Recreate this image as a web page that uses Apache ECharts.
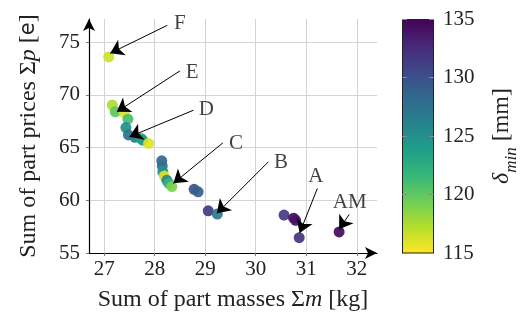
<!DOCTYPE html>
<html><head><meta charset="utf-8">
<script src="https://cdn.jsdelivr.net/npm/echarts@6/dist/echarts.min.js"></script>
<style>html,body{margin:0;padding:0;background:#fff}#c{width:521px;height:322px}</style>
</head><body><div id="c"></div>
<script>
// Scatter data: sum of part masses [kg], sum of part prices, delta_min [mm]
const massKg   = [27.09, 27.16, 27.22, 27.40, 27.47, 27.43, 27.48, 27.61, 27.73, 27.76, 27.88,
                  28.14, 28.15, 28.16, 28.19, 28.24, 28.28, 28.34, 28.78, 28.86, 29.06, 29.24,
                  30.56, 30.75, 30.79, 30.86, 31.65];
const priceSum = [73.6, 69.03, 68.4, 68.3, 67.7, 66.9, 66.2, 65.97, 65.87, 65.7, 65.4,
                  63.75, 63.25, 62.7, 62.3, 61.9, 61.6, 61.3, 61.04, 60.8, 59.0, 58.7,
                  58.6, 58.3, 58.1, 56.45, 57.0];
const deltaMin = [116.5, 117.5, 120, 116, 121, 125, 127.5, 127, 123.5, 124, 116,
                  128.5, 127.5, 125, 116, 126, 122, 119, 130, 129, 131.5, 127,
                  131.5, 134.5, 134, 132, 134.5];

// Annotations (data units)
const annLabels    = ['F', 'E', 'D', 'C', 'B', 'A', 'AM'];
const annTipMass   = [27.12, 27.25, 27.50, 28.37, 29.23, 30.87, 31.65];
const annTipPrice  = [73.95, 68.39, 66.02, 61.61, 58.76, 56.90, 57.25];
const annTailMass  = [28.25, 28.50, 28.77, 29.35, 30.25, 31.22, 31.85];
const annTailPrice = [76.60, 72.28, 68.55, 65.45, 63.65, 61.13, 58.67];
const annTextMass  = [28.50, 28.74, 29.02, 29.61, 30.50, 31.19, 31.86];
const annTextPrice = [76.80, 72.16, 68.65, 65.43, 63.63, 62.30, 59.83];

const xRange = [26.7, 32.4];
const yRange = [55, 77.2];
const cRange = [115, 135];

// viridis, dark (high delta) -> yellow (low delta)
const viridis = ['#440154', '#482878', '#3e4989', '#31688e', '#26828e',
                 '#1f9e89', '#35b779', '#6ece58', '#b5de2b', '#fde725'];
const viridisR = viridis.slice().reverse();

const FONT = 'Liberation Serif';
const FS_TICK = 21;
const FS_NAME = 24;
const FS_ANN = 21;

const points = massKg.map((m, i) => [m, priceSum[i], deltaMin[i]]);
const arrows = annLabels.map((l, i) => ({coords: [[annTailMass[i], annTailPrice[i]], [annTipMass[i], annTipPrice[i]]]}));
const texts = annLabels.map((l, i) => [annTextMass[i], annTextPrice[i], l]);

const stops = viridis.map((c, i) => ({offset: i / (viridis.length - 1), color: c}));

const richMain = {
  t: {fontFamily: FONT, fontSize: FS_NAME, color: '#222'},
  i: {fontFamily: FONT, fontSize: FS_NAME, fontStyle: 'italic', color: '#222'},
  s: {fontFamily: 'DejaVu Sans', fontSize: FS_NAME - 3, color: '#222'}
};

const chart = echarts.init(document.getElementById('c'), null, {renderer: 'canvas'});
chart.setOption({
  animation: false,
  backgroundColor: '#fff',
  grid: [
    {left: 89, top: 19, right: 144, bottom: 69, containLabel: false, outerBoundsMode: 'none'},
    {left: 402, top: 19, width: 32, height: 234, containLabel: false, outerBoundsMode: 'none'}
  ],
  visualMap: {
    type: 'continuous', show: false, seriesIndex: 0, dimension: 2,
    min: cRange[0], max: cRange[1], inRange: {color: viridisR}
  },
  xAxis: [
    {
      gridIndex: 0, type: 'value', min: xRange[0], max: xRange[1],
      axisLine: {show: true, onZero: false, symbol: ['none', 'arrow'], symbolSize: [9, 12],
                 lineStyle: {color: '#000', width: 1.2}},
      axisTick: {show: true, length: 3, lineStyle: {color: '#777'}},
      axisLabel: {fontFamily: FONT, fontSize: FS_TICK, color: '#222', margin: 6,
                  showMinLabel: false, showMaxLabel: false},
      splitLine: {show: true, showMinLine: false, showMaxLine: false, lineStyle: {color: '#d4d4d4', width: 1}},
      name: '{t|Sum of part masses Σ}{i|m}{t| [kg]}',
      nameLocation: 'middle', nameGap: 35,
      nameTextStyle: {rich: richMain}
    },
    {gridIndex: 1, type: 'category', data: [''], show: false}
  ],
  yAxis: [
    {
      gridIndex: 0, type: 'value', min: yRange[0], max: yRange[1],
      axisLine: {show: true, onZero: false, symbol: ['none', 'arrow'], symbolSize: [9, 12],
                 lineStyle: {color: '#000', width: 1.2}},
      axisTick: {show: true, length: 3, lineStyle: {color: '#777'}},
      axisLabel: {fontFamily: FONT, fontSize: FS_TICK, color: '#222', margin: 9,
                  showMinLabel: true, showMaxLabel: false},
      splitLine: {show: true, showMinLine: false, showMaxLine: false, lineStyle: {color: '#d4d4d4', width: 1}},
      name: '{t|Sum of part prices Σ}{i|p}{t| [}{s|e}{t|]}',
      nameLocation: 'middle', nameGap: 48, nameRotate: 90,
      nameTextStyle: {rich: richMain}
    },
    {
      gridIndex: 1, type: 'value', position: 'right', min: cRange[0], max: cRange[1], z: 5,
      axisLine: {show: false},
      axisTick: {show: true, inside: true, length: 5, lineStyle: {color: '#888'}},
      axisLabel: {fontFamily: FONT, fontSize: FS_TICK, color: '#222', margin: 9},
      splitLine: {show: false},
      name: '{i|δ}{sub|min}{t| [mm]}',
      nameLocation: 'middle', nameGap: 56, nameRotate: 90,
      nameTextStyle: {rich: {
        t: {fontFamily: FONT, fontSize: FS_NAME, color: '#222', verticalAlign: 'bottom', padding: [0, 0, 6, 0]},
        i: {fontFamily: FONT, fontSize: FS_NAME, fontStyle: 'italic', color: '#222', verticalAlign: 'bottom', padding: [0, 0, 6, 0]},
        sub: {fontFamily: FONT, fontSize: 17, fontStyle: 'italic', color: '#222', verticalAlign: 'bottom'}
      }}
    },
    {
      gridIndex: 1, type: 'value', position: 'left', min: cRange[0], max: cRange[1], z: 5,
      axisLine: {show: false},
      axisTick: {show: true, inside: true, length: 5, lineStyle: {color: '#888'}},
      axisLabel: {show: false},
      splitLine: {show: false}
    }
  ],
  series: [
    {
      type: 'scatter', xAxisIndex: 0, yAxisIndex: 0, data: points,
      symbolSize: 11, itemStyle: {opacity: 0.92}, z: 3
    },
    {
      type: 'lines', coordinateSystem: 'cartesian2d', xAxisIndex: 0, yAxisIndex: 0,
      data: arrows, symbol: ['none', 'arrow'], symbolSize: [0, 13],
      lineStyle: {color: '#000', width: 1, opacity: 1}, z: 4, silent: true
    },
    {
      type: 'scatter', xAxisIndex: 0, yAxisIndex: 0, data: texts,
      symbolSize: 0, z: 5, silent: true,
      label: {show: true, position: 'inside', formatter: p => p.data[2],
              fontFamily: FONT, fontSize: FS_ANN, color: '#111'}
    },
    {
      type: 'bar', xAxisIndex: 1, yAxisIndex: 1, data: [cRange[1]], barWidth: '100%',
      silent: true,
      itemStyle: {color: {type: 'linear', x: 0, y: 0, x2: 0, y2: 1, colorStops: stops},
                  borderColor: '#222', borderWidth: 1}
    }
  ]
});
</script>
</body></html>
